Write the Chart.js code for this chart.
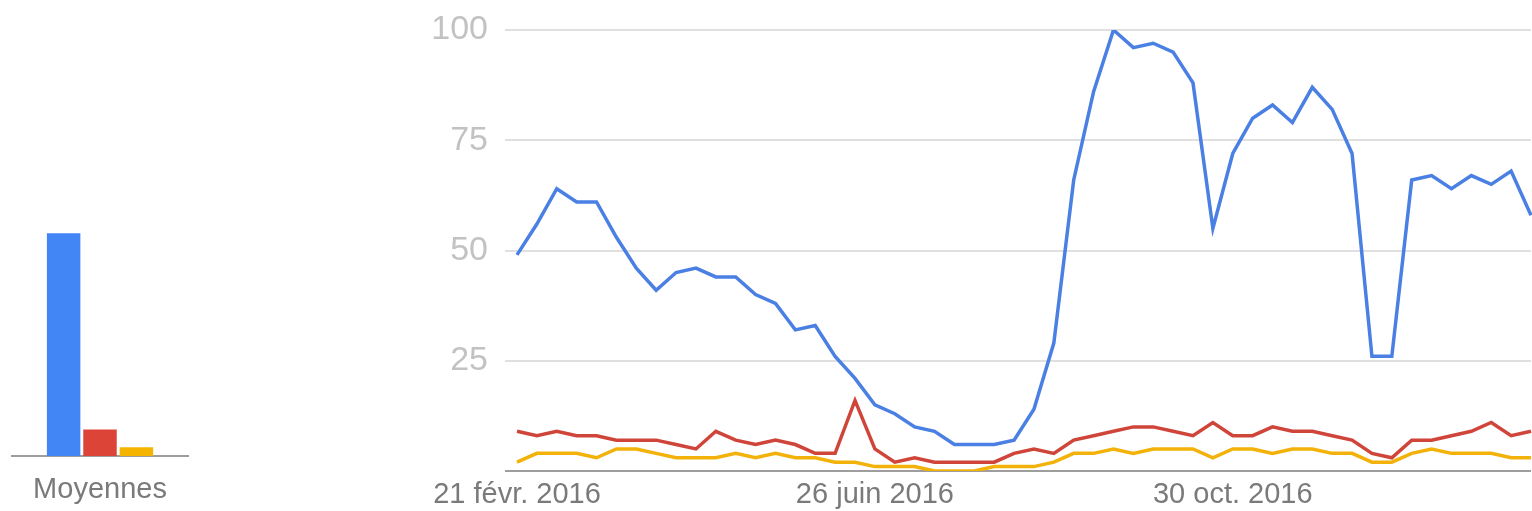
<!DOCTYPE html>
<html>
<head>
<meta charset="utf-8">
<script src="https://cdn.jsdelivr.net/npm/chart.js@4"></script>
<style>
  body { margin: 0; background: #fff; }
  #avg-box { position: absolute; left: 0; top: 0; width: 200px; height: 511px; }
  #trend-box { position: absolute; left: 400px; top: 0; width: 1132px; height: 511px; }
</style>
</head>
<body>
<div id="avg-box"><canvas id="avgChart"></canvas></div>
<div id="trend-box"><canvas id="trendChart"></canvas></div>
<script>
// Weekly categories
const weeks = [
  '21 févr. 2016', '28 févr. 2016', '6 mars 2016', '13 mars 2016', '20 mars 2016', '27 mars 2016',
  '3 avr. 2016', '10 avr. 2016', '17 avr. 2016', '24 avr. 2016', '1 mai 2016', '8 mai 2016',
  '15 mai 2016', '22 mai 2016', '29 mai 2016', '5 juin 2016', '12 juin 2016', '19 juin 2016',
  '26 juin 2016', '3 juil. 2016', '10 juil. 2016', '17 juil. 2016', '24 juil. 2016', '31 juil. 2016',
  '7 août 2016', '14 août 2016', '21 août 2016', '28 août 2016', '4 sept. 2016', '11 sept. 2016',
  '18 sept. 2016', '25 sept. 2016', '2 oct. 2016', '9 oct. 2016', '16 oct. 2016', '23 oct. 2016',
  '30 oct. 2016', '6 nov. 2016', '13 nov. 2016', '20 nov. 2016', '27 nov. 2016', '4 déc. 2016',
  '11 déc. 2016', '18 déc. 2016', '25 déc. 2016', '1 janv. 2017', '8 janv. 2017', '15 janv. 2017',
  '22 janv. 2017', '29 janv. 2017', '5 févr. 2017', '12 févr. 2017'
];
const shownTicks = ['21 févr. 2016', '26 juin 2016', '30 oct. 2016'];

const blueSeries = [
  49, 56, 64, 61, 61, 53, 46, 41, 45, 46,
  44, 44, 40, 38, 32, 33, 26, 21, 15, 13,
  10, 9, 6, 6, 6, 7, 14, 29, 66, 86,
  100, 96, 97, 95, 88, 55, 72, 80, 83, 79,
  87, 82, 72, 26, 26, 66, 67, 64, 67, 65,
  68, 58
];
const redSeries = [
  9, 8, 9, 8, 8, 7, 7, 7, 6, 5,
  9, 7, 6, 7, 6, 4, 4, 16, 5, 2,
  3, 2, 2, 2, 2, 4, 5, 4, 7, 8,
  9, 10, 10, 9, 8, 11, 8, 8, 10, 9,
  9, 8, 7, 4, 3, 7, 7, 8, 9, 11,
  8, 9
];
const yellowSeries = [
  2, 4, 4, 4, 3, 5, 5, 4, 3, 3,
  3, 4, 3, 4, 3, 3, 2, 2, 1, 1,
  1, 0, 0, 0, 1, 1, 1, 2, 4, 4,
  5, 4, 5, 5, 5, 3, 5, 5, 4, 5,
  5, 4, 4, 2, 2, 4, 5, 4, 4, 4,
  3, 3
];

// Averages (left mini chart)
const avgLabels = ['Moyennes'];
const avgValues = [50.5, 6, 2];

const colors = ['#4285f4', '#db4437', '#f4b400'];
const lineColors = ['#4a7fe3', '#d0453a', '#f2b20a'];

const font = 'Arial, "Liberation Sans", sans-serif';

new Chart(document.getElementById('avgChart'), {
  type: 'bar',
  data: {
    labels: avgLabels,
    datasets: avgValues.map((v, i) => ({
      data: [v],
      backgroundColor: colors[i],
      categoryPercentage: 0.62,
      barPercentage: 0.92
    }))
  },
  options: {
    responsive: true,
    maintainAspectRatio: false,
    animation: false,
    layout: { padding: { left: 12, right: 12, top: 15, bottom: 0 } },
    plugins: { legend: { display: false }, tooltip: { enabled: false } },
    scales: {
      x: {
        grid: { display: false, drawTicks: false },
        border: { display: true, color: '#9e9e9e', width: 2 },
        ticks: { color: '#7a7a7a', font: { family: font, size: 29 }, padding: 17 },
        afterFit: (s) => { s.height = 55; }
      },
      y: { display: false, min: 0, max: 100 }
    }
  }
});

new Chart(document.getElementById('trendChart'), {
  type: 'line',
  data: {
    labels: weeks,
    datasets: [blueSeries, redSeries, yellowSeries].map((d, i) => ({
      data: d,
      borderColor: lineColors[i],
      borderWidth: 3.5,
      pointRadius: 0,
      tension: 0,
      fill: false
    })).reverse()
  },
  options: {
    responsive: true,
    maintainAspectRatio: false,
    animation: false,
    layout: { padding: { left: 0, right: 1, top: 30, bottom: 0 } },
    plugins: { legend: { display: false }, tooltip: { enabled: false } },
    scales: {
      x: {
        offset: false,
        grid: { display: false, drawTicks: false },
        border: { display: false },
        ticks: {
          autoSkip: false,
          maxRotation: 0,
          color: '#7a7a7a',
          font: { family: font, size: 29 },
          padding: 7,
          callback: function (value) {
            const lbl = this.getLabelForValue(value);
            return shownTicks.includes(lbl) ? lbl : '';
          }
        },
        afterFit: (s) => { s.height = 40; s.paddingLeft = 0; s.paddingRight = 0; }
      },
      y: {
        min: 0,
        max: 100,
        grid: {
          color: (ctx) => ctx.tick && ctx.tick.value === 0 ? '#9e9e9e' : '#e0e0e0',
          lineWidth: 2,
          drawTicks: true,
          tickLength: 12
        },
        border: { display: false },
        ticks: {
          stepSize: 25,
          color: '#c2c2c2',
          font: { family: font, size: 34 },
          padding: 17,
          callback: (v) => v === 0 ? '' : v
        },
        afterFit: (s) => { s.width = 117; s.paddingTop = 0; s.paddingBottom = 0; }
      }
    }
  }
});
</script>
</body>
</html>
